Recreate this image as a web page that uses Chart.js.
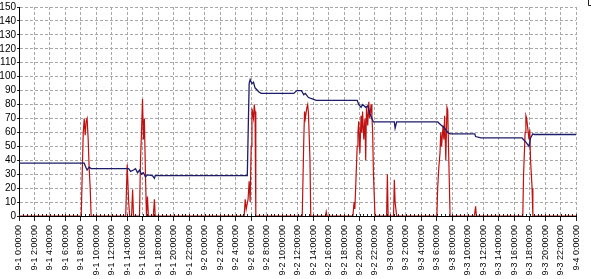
<!DOCTYPE html>
<html>
<head>
<meta charset="utf-8">
<script src="https://cdn.jsdelivr.net/npm/chart.js@4.4.0/dist/chart.umd.min.js"></script>
<style>
  html, body { margin: 0; padding: 0; background: #fff; }
  #wrap { width: 591px; height: 279px; position: relative; }
</style>
</head>
<body>
<div id="wrap"><canvas id="chart"></canvas></div>
<script>
// datos (x en horas desde 9-1 0:00)
const blueTimes  = [0, 8.43, 8.55, 8.8, 9.06, 9.32, 14.17, 14.42, 14.8, 15.06, 15.32, 15.57, 15.83, 16.08, 16.34, 16.6, 17.23, 17.5, 17.6,
                    29.5, 29.74, 29.87, 30.1, 30.3, 30.5, 31.0, 31.3, 35.5, 35.9, 36.5, 36.8, 37.0, 37.4, 37.9, 38.4,
                    43.7, 43.9, 44.2, 44.4, 44.8, 45.06, 45.3, 45.6, 45.8, 48.5, 48.6, 48.8,
                    54.1, 54.6, 55.0, 55.4, 55.7, 58.9, 59.0, 59.7, 65.0, 65.5, 65.9, 66.1, 66.4, 66.6, 72];
const blueValues = [38, 38, 36, 33, 35, 34, 34, 32, 33, 34, 31, 33, 30, 31, 28, 29.5, 29, 27, 29,
                    29, 95, 98, 95, 96, 92, 89, 88, 88, 90, 90, 87, 88, 85, 84, 83,
                    83, 80, 78, 80, 78, 79, 74, 70, 67.5, 67.5, 63, 67.5,
                    67.5, 65, 63, 60, 59, 59, 57, 56, 56, 53, 50, 56, 59, 58.5, 58.5];

const redTimes  = [0, 8.04, 8.17, 8.3, 8.43, 8.55, 8.68, 8.8, 8.94, 9.06, 9.2, 9.32,
                   13.79, 13.98, 14.17, 14.3, 14.55, 14.68, 14.8, 15.57, 15.7, 15.83, 15.96, 16.08, 16.2, 16.34, 16.47, 16.6, 16.72, 17.36, 17.5, 17.6,
                   29.1, 29.23, 29.36, 29.6, 29.74, 29.87, 30.0, 30.1, 30.3, 30.4, 30.5, 30.6,
                   36.6, 36.8, 36.9, 37.0, 37.2, 37.3, 37.4, 37.6, 37.7,
                   39.6, 39.7, 39.8,
                   43.15, 43.3, 43.4, 43.5, 43.7, 43.8, 43.9, 44.05, 44.2, 44.3, 44.4, 44.55, 44.7, 44.8, 44.9, 45.06, 45.2, 45.3, 45.5, 45.6, 45.7, 45.8, 46.0,
                   47.5, 47.6, 47.7, 48.4, 48.5, 48.6, 48.8,
                   54.0, 54.1, 54.25, 54.4, 54.5, 54.6, 54.8, 54.9, 55.0, 55.15, 55.3, 55.4, 55.5, 55.7,
                   58.85, 59.0, 59.1,
                   65.1, 65.2, 65.4, 65.5, 65.6, 65.7, 65.9, 66.0, 66.1, 66.3, 66.4, 72];
const redValues = [0, 0, 30, 60, 70, 58, 68, 70, 55, 35, 20, 0,
                   0, 37, 10, 0, 0, 19, 0, 0, 40, 60, 84, 55, 70, 30, 0, 14, 0, 0, 12, 0,
                   0, 12, 5, 12, 25, 10, 50, 77, 70, 80, 75, 0,
                   0, 55, 75, 70, 78, 80, 74, 40, 0,
                   0, 3, 0,
                   0, 10, 5, 20, 50, 60, 68, 45, 72, 60, 75, 55, 70, 40, 78, 65, 82, 70, 80, 72, 60, 30, 0,
                   0, 30, 0, 0, 26, 10, 0,
                   0, 20, 35, 45, 60, 50, 65, 55, 72, 40, 78, 76, 50, 0,
                   0, 7, 0,
                   0, 30, 60, 72, 70, 65, 55, 62, 40, 20, 0, 0];

const yMax = 150;
const yStep = 10;
const xMax = 72;
const xStep = 2;

function tickLabel(v) {
    const day = 1 + Math.floor(v / 24);
    const hour = v % 24;
    return '9-' + day + ' ' + hour + ':00:00';
}

// ticks menores del eje x y la marca de la esquina
const extraPlugin = {
    id: 'extras',
    afterDraw(chart) {
        const ctx = chart.ctx;
        const xs = chart.scales.x;
        const bottom = chart.chartArea.bottom;
        ctx.save();
        ctx.strokeStyle = '#222';
        ctx.lineWidth = 1;
        ctx.beginPath();
        for (let t = 0; t <= xMax; t += 0.5) {
            const px = Math.round(xs.getPixelForValue(t)) + 0.5;
            ctx.moveTo(px, bottom);
            ctx.lineTo(px, bottom - 2);
        }
        ctx.stroke();
        ctx.beginPath();
        ctx.moveTo(588.5, 0);
        ctx.lineTo(588.5, 5.5);
        ctx.lineTo(591, 5.5);
        ctx.stroke();
        ctx.restore();
    }
};

const font = { family: "'Liberation Sans', Arial, sans-serif", size: 10 };

new Chart(document.getElementById('chart').getContext('2d'), {
    type: 'line',
    data: {
        datasets: [{
            label: 'azul',
            data: blueTimes.map((t, i) => ({ x: t, y: blueValues[i] })),
            borderColor: '#1c1c6a',
            borderWidth: 1.3,
            pointRadius: 0,
            tension: 0,
            fill: false
        }, {
            label: 'rojo',
            data: redTimes.map((t, i) => ({ x: t, y: redValues[i] })),
            borderColor: '#c01010',
            borderWidth: 1.2,
            pointRadius: 0,
            tension: 0,
            fill: false
        }]
    },
    options: {
        responsive: true,
        maintainAspectRatio: false,
        animation: false,
        layout: { padding: { top: 5, right: 8, left: 0, bottom: 0 } },
        plugins: {
            legend: { display: false },
            tooltip: { enabled: false }
        },
        scales: {
            x: {
                type: 'linear',
                min: 0,
                max: xMax,
                afterFit: function(scale) { scale.height = 63; },
                afterBuildTicks: function(scale) {
                    const ticks = [];
                    for (let v = 0; v <= xMax; v += xStep) ticks.push({ value: v });
                    scale.ticks = ticks;
                },
                ticks: {
                    autoSkip: false,
                    minRotation: 90,
                    maxRotation: 90,
                    padding: 4,
                    color: '#000',
                    font: { family: font.family, size: 9 },
                    callback: tickLabel
                },
                grid: {
                    color: '#a8a8a8',
                    lineWidth: 1,
                    tickLength: 5,
                    tickColor: '#222'
                },
                border: { color: '#000', width: 1, dash: [3, 2] }
            },
            y: {
                min: 0,
                max: yMax,
                afterFit: function(scale) { scale.width = 19; },
                ticks: {
                    stepSize: yStep,
                    maxTicksLimit: 20,
                    autoSkip: false,
                    padding: 1,
                    color: '#000',
                    font: font
                },
                grid: {
                    color: '#a8a8a8',
                    lineWidth: 1,
                    tickLength: 2,
                    tickColor: '#222'
                },
                border: { color: '#000', width: 1, dash: [3, 2] }
            }
        }
    },
    plugins: [extraPlugin]
});
</script>
</body>
</html>
